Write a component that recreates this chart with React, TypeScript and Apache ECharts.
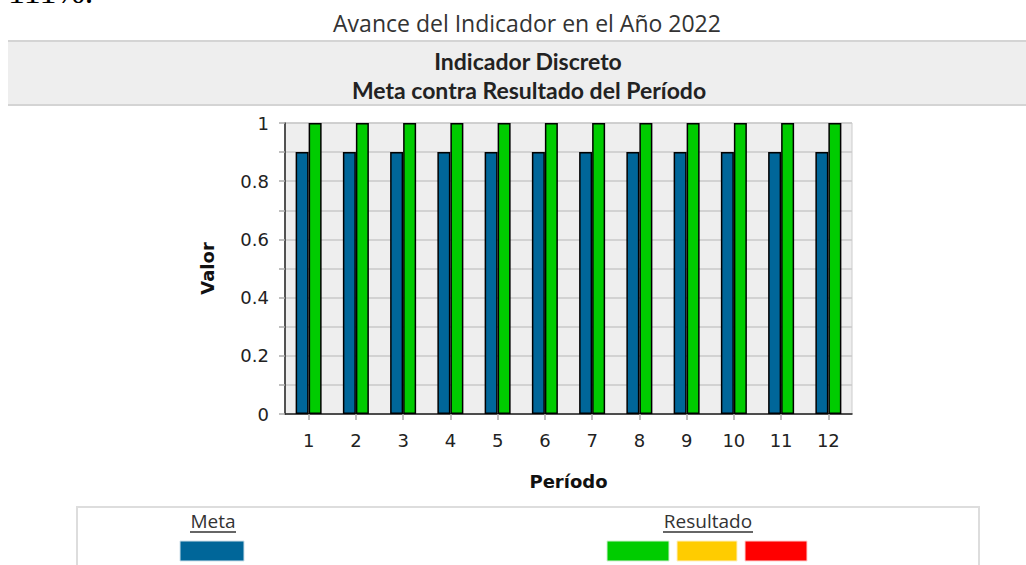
import React, { useEffect, useRef } from "react";
import * as echarts from "echarts";

const periods = ["1", "2", "3", "4", "5", "6", "7", "8", "9", "10", "11", "12"];
const meta = [0.9, 0.9, 0.9, 0.9, 0.9, 0.9, 0.9, 0.9, 0.9, 0.9, 0.9, 0.9];
const resultado = [1, 1, 1, 1, 1, 1, 1, 1, 1, 1, 1, 1];
const yTickLabels = ["0", "0.2", "0.4", "0.6", "0.8", "1"];

const TITLE_FONT = "'Open Sans', 'Noto Sans', sans-serif";
const BAND_FONT = "Lato, 'Open Sans', sans-serif";
const AXIS_FONT = "'DejaVu Sans', sans-serif";

export default function App() {
  const ref = useRef<HTMLDivElement>(null);
  useEffect(() => {
    if (!ref.current) return;
    const chart = echarts.init(ref.current, null, { renderer: "svg" });
    const option: any = {
      animation: false,
      backgroundColor: "#ffffff",
      grid: {
        left: 285,
        top: 123,
        width: 567,
        height: 291,
        show: true,
        backgroundColor: "#eeeeee",
        borderColor: "#cccccc",
        borderWidth: 1,
      },
      xAxis: {
        type: "category",
        data: periods,
        name: "Período",
        nameLocation: "middle",
        nameGap: 58,
        nameTextStyle: { fontFamily: AXIS_FONT, fontWeight: "bold", fontSize: 18, color: "#111" },
        axisLine: { show: true, lineStyle: { color: "#222", width: 1.5 } },
        axisTick: { show: true, alignWithLabel: true, length: 6, lineStyle: { color: "#aaaaaa", width: 1.5 } },
        axisLabel: { fontFamily: AXIS_FONT, fontSize: 18, color: "#222", margin: 17 },
        splitLine: { show: false },
      },
      yAxis: {
        type: "value",
        min: 0,
        max: 1,
        interval: 0.1,
        name: "Valor",
        nameLocation: "middle",
        nameGap: 69,
        nameRotate: 90,
        nameTextStyle: { fontFamily: AXIS_FONT, fontWeight: "bold", fontSize: 18, color: "#111" },
        axisLine: { show: true, lineStyle: { color: "#222", width: 1.5 } },
        axisTick: { show: true, length: 6, lineStyle: { color: "#aaaaaa", width: 1.5 } },
        axisLabel: {
          fontFamily: AXIS_FONT,
          fontSize: 18,
          color: "#222",
          margin: 16,
          formatter: (v: number) => {
            const k = Math.round(v * 10);
            if (k % 2 !== 0) return "";
            return yTickLabels[k / 2];
          },
        },
        splitLine: { show: true, lineStyle: { color: "#c8c8c8", width: 1.5 } },
      },
      series: [
        {
          name: "Meta",
          type: "bar",
          data: meta,
          barWidth: 13,
          barGap: "0%",
          itemStyle: { color: "#006699", borderColor: "#000000", borderWidth: 1.5 },
        },
        {
          name: "Resultado",
          type: "bar",
          data: resultado,
          barWidth: 13,
          barGap: "0%",
          itemStyle: { color: "#00cc00", borderColor: "#000000", borderWidth: 1.5 },
        },
      ],
      graphic: [
        {
          type: "text",
          left: 8,
          top: -26,
          style: { text: "111%.", font: "34px 'Liberation Serif', serif", fill: "#000" },
        },
        {
          type: "text",
          x: 527,
          y: 23,
          style: {
            text: "Avance del Indicador en el Año 2022",
            font: `23px ${TITLE_FONT}`,
            fill: "#333",
            align: "center",
            verticalAlign: "middle",
          },
        },
        { type: "rect", shape: { x: 8, y: 41, width: 1030, height: 64 }, style: { fill: "#eeeeee" } },
        { type: "line", shape: { x1: 8, y1: 41, x2: 1026, y2: 41 }, style: { stroke: "#d4d4d4", lineWidth: 2 } },
        { type: "line", shape: { x1: 8, y1: 105, x2: 1026, y2: 105 }, style: { stroke: "#d4d4d4", lineWidth: 2 } },
        {
          type: "text",
          x: 528,
          y: 60.5,
          style: {
            text: "Indicador Discreto",
            font: `bold 23px ${BAND_FONT}`,
            fill: "#222",
            align: "center",
            verticalAlign: "middle",
          },
        },
        {
          type: "text",
          x: 529,
          y: 89.5,
          style: {
            text: "Meta contra Resultado del Período",
            font: `bold 23px ${BAND_FONT}`,
            fill: "#222",
            align: "center",
            verticalAlign: "middle",
          },
        },
        {
          type: "rect",
          shape: { x: 77, y: 507, width: 902, height: 80 },
          style: { fill: "#ffffff", stroke: "#dddddd", lineWidth: 2 },
        },
        {
          type: "text",
          x: 213,
          y: 521,
          style: { text: "Meta", font: `19px ${TITLE_FONT}`, fill: "#333", align: "center", verticalAlign: "middle" },
        },
        { type: "line", shape: { x1: 190, y1: 532, x2: 236, y2: 532 }, style: { stroke: "#333", lineWidth: 1.5 } },
        {
          type: "text",
          x: 708,
          y: 521,
          style: { text: "Resultado", font: `19px ${TITLE_FONT}`, fill: "#333", align: "center", verticalAlign: "middle" },
        },
        { type: "line", shape: { x1: 663, y1: 532, x2: 753, y2: 532 }, style: { stroke: "#333", lineWidth: 1.5 } },
        { type: "rect", shape: { x: 180, y: 541, width: 64, height: 20 }, style: { fill: "#006699", stroke: "#cfe0ea", lineWidth: 1 } },
        { type: "rect", shape: { x: 607, y: 541, width: 62, height: 20 }, style: { fill: "#00cc00", stroke: "#d0f0d0", lineWidth: 1 } },
        { type: "rect", shape: { x: 677, y: 541, width: 60, height: 20 }, style: { fill: "#ffcc00", stroke: "#fff0c0", lineWidth: 1 } },
        { type: "rect", shape: { x: 745, y: 541, width: 62, height: 20 }, style: { fill: "#ff0000", stroke: "#ffd0d0", lineWidth: 1 } },
      ],
    };
    chart.setOption(option);
    return () => chart.dispose();
  }, []);
  return (
    <div
      ref={ref}
      style={{ position: "fixed", left: 0, top: 0, width: 1026, height: 565 }}
    />
  );
}
